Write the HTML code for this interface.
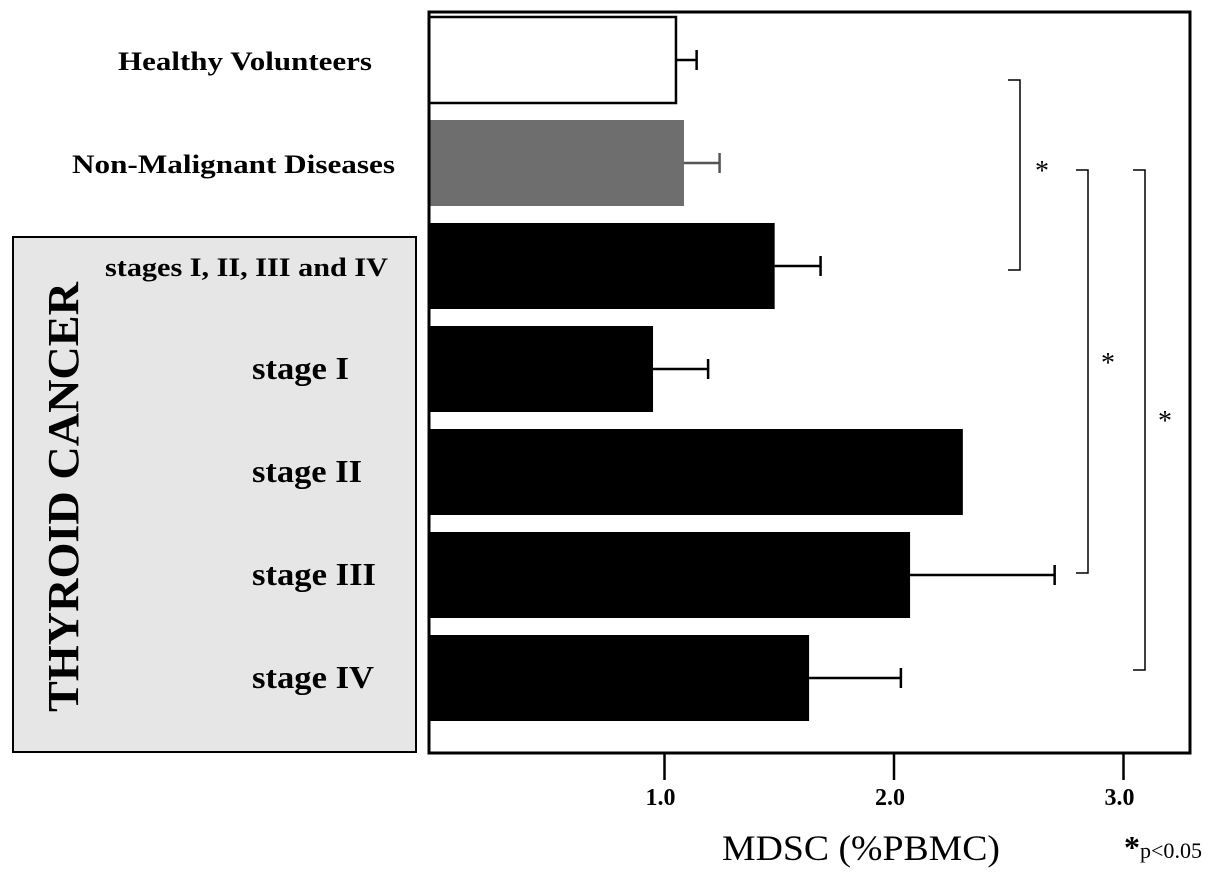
<!DOCTYPE html>
<html><head><meta charset="utf-8"><style>
body{margin:0;background:#fff;}
svg text{font-family:"Liberation Serif",serif;}
</style></head><body>
<svg id="chart" width="1205" height="868" viewBox="0 0 1205 868">
<rect x="13" y="237" width="403" height="515" fill="#e6e6e6" stroke="#000" stroke-width="2"/>
<text transform="translate(78,497) rotate(-90)" text-anchor="middle" font-size="44" font-weight="bold" textLength="430" lengthAdjust="spacingAndGlyphs">THYROID CANCER</text>
<g id="bars"></g>
<rect x="429" y="12" width="761" height="741" fill="none" stroke="#000" stroke-width="3"/>
<g id="axis"></g>
<text x="722" y="860" font-size="36" textLength="278" lengthAdjust="spacingAndGlyphs">MDSC (%PBMC)</text>
<text x="1124" y="858" font-size="22"><tspan font-size="32" font-weight="bold">*</tspan><tspan textLength="62" lengthAdjust="spacingAndGlyphs">p&lt;0.05</tspan></text>
<g id="sig" stroke="#000" stroke-width="1.5" fill="none"></g>
</svg>
<script>
const categories=["Healthy Volunteers","Non-Malignant Diseases","stages I, II, III and IV","stage I","stage II","stage III","stage IV"];
const means=[1.05,1.085,1.48,0.95,2.30,2.07,1.63];
const errors=[0.09,0.155,0.20,0.24,0,0.63,0.40];
const ticks=[1.0,2.0,3.0];
const tickLabels=["1.0","2.0","3.0"];
const NS="http://www.w3.org/2000/svg";
const x=v=>435+229.5*v;
const yc=i=>60+103*i;
const labelX=[118,72,105,252,252,252,252];
const labelW=[254,323,283,97,110,124,122];
const labelSize=[26,26,26,32,32,32,32];
function mk(tag,attrs,parent){const e=document.createElementNS(NS,tag);for(const k in attrs)e.setAttribute(k,attrs[k]);parent.appendChild(e);return e;}
const bars=document.getElementById('bars');
categories.forEach((c,i)=>{
  const fill=i===0?"#fff":(i===1?"#6e6e6e":"#000");
  const r=mk('rect',{x:429,y:yc(i)-43,width:x(means[i])-429,height:86,fill:fill,stroke:i===0?"#000":"none","stroke-width":2.5},bars);
  
  
  if(errors[i]>0){
    const col=i===1?"#555":"#000";
    const l=mk('line',{x1:x(means[i]),x2:x(means[i]+errors[i]),y1:yc(i),y2:yc(i),stroke:col,"stroke-width":2.5},bars);
    
    
    const cap=mk('line',{x1:x(means[i]+errors[i]),x2:x(means[i]+errors[i]),y1:yc(i)-10,y2:yc(i)+10,stroke:col,"stroke-width":2.5},bars);
    
    
  }
  const t=mk('text',{x:labelX[i],y:yc(i)+10,"font-size":labelSize[i],"font-weight":"bold",textLength:labelW[i],lengthAdjust:"spacingAndGlyphs"},bars);
  t.textContent=c;
  
  
});
const axis=document.getElementById('axis');
ticks.forEach((v,i)=>{
  const l=mk('line',{x1:x(v),x2:x(v),y1:753,y2:780,stroke:"#000","stroke-width":2.5},axis);
  
  
  const t=mk('text',{x:x(v)-4,y:805,"text-anchor":"middle","font-size":24,"font-weight":"bold"},axis);
  t.textContent=tickLabels[i];
  
  
});
const sig=document.getElementById('sig');
[[1020,80,270,1042,180],[1088,170,573,1108,372],[1145,170,670,1165,430]].forEach((b,i)=>{
  const p=mk('path',{d:`M${b[0]-12},${b[1]} H${b[0]} V${b[2]} H${b[0]-12}`},sig);
  
  
  const t=mk('text',{x:b[3],y:b[4],"text-anchor":"middle","font-size":28,fill:"#000",stroke:"none"},sig);
  t.textContent="*";
  
  
});
</script>
</body></html>
